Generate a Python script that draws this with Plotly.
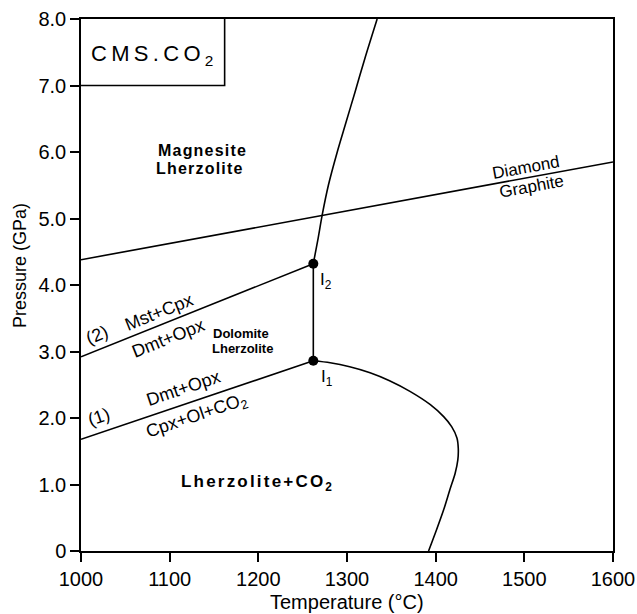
import plotly.graph_objects as go

# ---- data (T in °C, P in GPa) ----
reaction1_T = [1000, 1262]
reaction1_P = [1.68, 2.86]
reaction2_T = [1000, 1262]
reaction2_P = [2.92, 4.32]
invariant_link_T = [1262, 1262]
invariant_link_P = [2.86, 4.32]
diamond_graphite_T = [1000, 1600]
diamond_graphite_P = [4.38, 5.85]
upper_curve_T = [1262, 1267, 1272, 1279, 1289, 1299, 1309, 1320, 1334]
upper_curve_P = [4.32, 4.67, 5.05, 5.50, 6.00, 6.45, 6.90, 7.40, 8.00]
solidus_T = [1262, 1281, 1303, 1326, 1348, 1371, 1394, 1409, 1418, 1424, 1425.5,
             1425, 1422, 1416, 1409, 1401, 1392]
solidus_P = [2.86, 2.83, 2.77, 2.68, 2.56, 2.40, 2.20, 2.02, 1.87, 1.70, 1.54,
             1.37, 1.17, 0.92, 0.62, 0.32, 0.00]
invariant_T = [1262, 1262]
invariant_P = [2.86, 4.32]
invariant_labels = ["I<sub>1</sub>", "I<sub>2</sub>"]
box_T = [1000, 1162, 1162]
box_P = [7.0, 7.0, 8.0]

x_ticks = [1000, 1100, 1200, 1300, 1400, 1500, 1600]
x_ticktext = ["1000", "1100", "1200", "1300", "1400", "1500", "1600"]
y_ticks = [0, 1, 2, 3, 4, 5, 6, 7, 8]
y_ticktext = ["0", "1.0", "2.0", "3.0", "4.0", "5.0", "6.0", "7.0", "8.0"]

FONT = "Liberation Sans, Arial, Helvetica, sans-serif"
LW = 1.6

fig = go.Figure()

def add_line(xs, ys, shape="linear"):
    fig.add_trace(go.Scatter(x=xs, y=ys, mode="lines",
                             line=dict(color="black", width=LW, shape=shape,
                                       smoothing=0.8),
                             showlegend=False, hoverinfo="skip"))

add_line(reaction1_T, reaction1_P)
add_line(reaction2_T, reaction2_P)
add_line(invariant_link_T, invariant_link_P)
add_line(diamond_graphite_T, diamond_graphite_P)
add_line(upper_curve_T, upper_curve_P, "spline")
add_line(solidus_T, solidus_P, "spline")
add_line(box_T, box_P)

fig.add_trace(go.Scatter(x=invariant_T, y=invariant_P, mode="markers",
                         marker=dict(color="black", size=10),
                         showlegend=False, hoverinfo="skip"))

def ann(text, x, y, size=17, angle=0, bold=False, spacing=None, align="center"):
    t = text
    if bold:
        t = "<b>" + t + "</b>"
    if spacing is not None:
        t = '<span style="letter-spacing:%spx">' % spacing + t + "</span>"
    fig.add_annotation(x=x, y=y, xref="x", yref="y", text=t, showarrow=False,
                       textangle=angle, align=align,
                       font=dict(family=FONT, size=size, color="black"),
                       xanchor="center", yanchor="middle")

ann("CMS.CO<sub>2</sub>", 1082.5, 7.46, size=22, spacing=4.3)
ann("Magnesite", 1136.5, 6.03, size=16, bold=True, spacing=1.2)
ann("Lherzolite", 1134.5, 5.75, size=16, bold=True, spacing=1.2)
ann("Dolomite", 1180.0, 3.27, size=13, bold=True)
ann("Lherzolite", 1182.0, 3.04, size=13, bold=True)
ann("Lherzolite+CO<sub>2</sub>", 1199.6, 1.03, size=17, bold=True, spacing=2.2)
ann("Diamond", 1501.9, 5.76, size=17, angle=-10.4)
ann("Graphite", 1508.5, 5.48, size=17, angle=-10.4)
ann("Mst+Cpx", 1088.0, 3.60, size=18, angle=-21.8)
ann("(2)", 1018.4, 3.25, size=18, angle=-21.8)
ann("Dmt+Opx", 1099.0, 3.20, size=18, angle=-21.8)
ann("Dmt+Opx", 1116.0, 2.45, size=18, angle=-18.7)
ann("(1)", 1020.3, 2.01, size=18, angle=-18.7)
ann("Cpx+Ol+CO<sub>2</sub>", 1130.5, 2.03, size=18, angle=-18.7)
ann(invariant_labels[0], 1277.4, 2.60, size=17)
ann(invariant_labels[1], 1276.3, 4.06, size=17)

# axis titles
fig.add_annotation(x=0.5, y=-0.096, xref="paper", yref="paper",
                   text="Temperature (°C)", showarrow=False,
                   font=dict(family=FONT, size=20, color="black"),
                   xanchor="center", yanchor="middle")
fig.add_annotation(x=-0.1147, y=0.5376, xref="paper", yref="paper",
                   text="Pressure (GPa)", showarrow=False, textangle=-90,
                   font=dict(family=FONT, size=18, color="black"),
                   xanchor="center", yanchor="middle")

axis_common = dict(showgrid=False, zeroline=False, showline=True,
                   linecolor="black", linewidth=1.5, mirror=True,
                   ticks="outside", ticklen=9, tickwidth=1.5, tickcolor="black",
                   automargin=False,
                   tickfont=dict(family=FONT, size=20, color="black"))

fig.update_xaxes(range=[1000, 1600], tickvals=x_ticks, ticktext=x_ticktext,
                 **axis_common)
fig.update_yaxes(range=[0, 8], tickvals=y_ticks, ticktext=y_ticktext,
                 **axis_common)

fig.update_layout(width=637, height=614, autosize=False,
                  margin=dict(l=81, r=24, t=19, b=63, pad=0, autoexpand=False),
                  paper_bgcolor="white", plot_bgcolor="white",
                  font=dict(family=FONT, color="black"))

fig.write_html("out.html")
